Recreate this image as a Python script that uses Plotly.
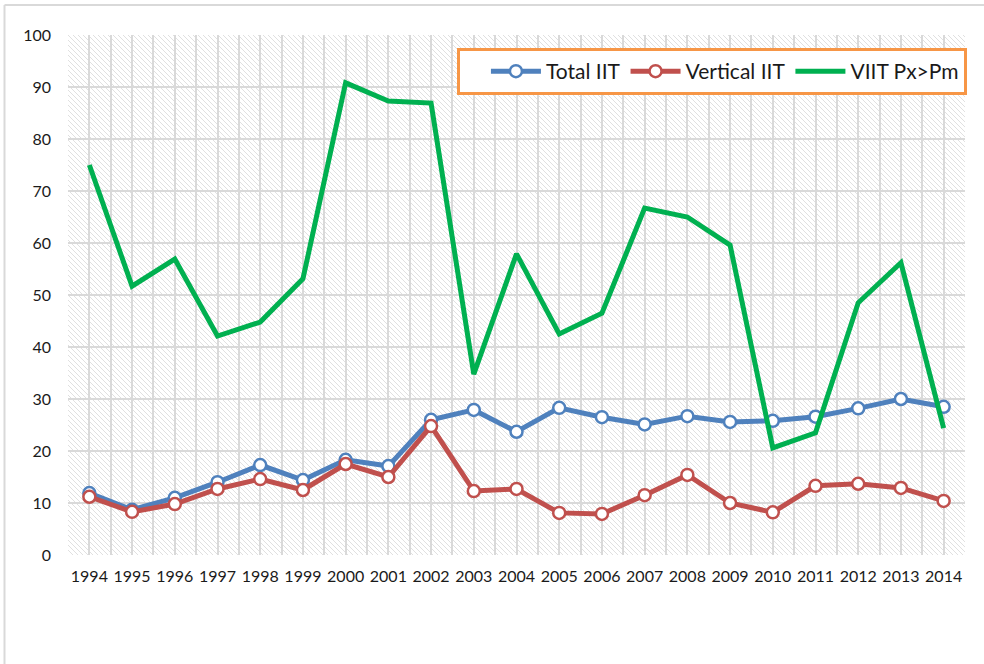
import base64
import plotly.graph_objects as go

years = list(range(1994, 2015))
year_labels = [str(y) for y in years]
total_iit = [11.9, 8.7, 11.0, 14.0, 17.3, 14.4, 18.3, 17.1, 26.0, 27.9, 23.7,
             28.3, 26.5, 25.1, 26.7, 25.6, 25.8, 26.6, 28.2, 30.0, 28.5]
vertical_iit = [11.2, 8.3, 9.8, 12.7, 14.6, 12.5, 17.5, 15.0, 24.8, 12.3, 12.7,
                8.1, 7.9, 11.5, 15.4, 10.0, 8.2, 13.3, 13.7, 12.9, 10.4]
viit_px_pm = [75.0, 51.7, 56.9, 42.1, 44.8, 53.1, 90.8, 87.3, 86.9, 34.8, 57.9,
              42.5, 46.5, 66.7, 65.0, 59.6, 20.6, 23.5, 48.5, 56.2, 24.4]
y_ticks = list(range(0, 101, 10))

W, H = 984, 664
ML, MR, MT, MB = 68, 19, 35, 109
PW, PH = W - ML - MR, H - MT - MB

svg = (
    f"<svg xmlns='http://www.w3.org/2000/svg' width='{PW}' height='{PH}'>"
    "<defs><pattern id='p' width='5' height='5' patternUnits='userSpaceOnUse'>"
    "<path d='M-1,-1 L6,6 M-1,4 L1,6 M4,-1 L6,1' stroke='#e0e0e0' stroke-width='1'/>"
    "</pattern></defs><rect width='100%' height='100%' fill='white'/>"
    "<rect width='100%' height='100%' fill='url(#p)'/></svg>"
)
src = "data:image/svg+xml;base64," + base64.b64encode(svg.encode()).decode()

font = "Lato, 'Open Sans', sans-serif"
fig = go.Figure()
fig.add_trace(go.Scatter(
    x=years, y=total_iit, name="Total IIT", mode="lines+markers",
    line=dict(color="#4F81BD", width=5),
    marker=dict(symbol="circle", size=12, color="white",
                line=dict(color="#4F81BD", width=2.5)),
))
fig.add_trace(go.Scatter(
    x=years, y=vertical_iit, name="Vertical IIT", mode="lines+markers",
    line=dict(color="#C0504D", width=5),
    marker=dict(symbol="circle", size=12, color="white",
                line=dict(color="#C0504D", width=2.5)),
))
fig.add_trace(go.Scatter(
    x=years, y=viit_px_pm, name="VIIT Px>Pm", mode="lines",
    line=dict(color="#00B050", width=5),
))

fig.update_layout(
    width=W, height=H,
    margin=dict(l=ML, r=MR, t=MT, b=MB),
    paper_bgcolor="white",
    plot_bgcolor="rgba(0,0,0,0)",
    font=dict(family=font, size=16, color="#1a1a1a"),
    showlegend=True,
    legend=dict(
        orientation="h", x=1.002, y=0.975, xanchor="right", yanchor="top",
        bgcolor="white", bordercolor="#F79646", borderwidth=3,
        font=dict(size=21, family=font, color="#1a1a1a"),
        itemwidth=50,
        title=dict(text="\u00a0" * 3, side="left", font=dict(size=21)),
    ),
    images=[dict(source=src, xref="paper", yref="paper", x=0, y=1,
                 sizex=1, sizey=1, xanchor="left", yanchor="top",
                 sizing="stretch", layer="below")],
    shapes=[
        dict(type="line", xref="paper", yref="paper",
             x0=(4.5 - ML) / PW, x1=(W - ML) / PW,
             y0=(H - MB - 5) / PH, y1=(H - MB - 5) / PH,
             line=dict(color="#d9d9d9", width=2)),
        dict(type="line", xref="paper", yref="paper",
             x0=(4.5 - ML) / PW, x1=(4.5 - ML) / PW,
             y0=(H - MB - 5) / PH, y1=-MB / PH,
             line=dict(color="#d9d9d9", width=2)),
    ],
)
fig.update_xaxes(
    range=[1993.5, 2014.5], tickmode="array", tickvals=years, ticktext=year_labels,
    showgrid=True, gridcolor="#d9d9d9", gridwidth=1.5,
    minor=dict(tick0=1993.5, dtick=1, showgrid=True, gridcolor="#d9d9d9", gridwidth=1.5),
    zeroline=False, showline=False, ticks="", ticklabelstandoff=10,
    tickfont=dict(size=16),
)
fig.update_yaxes(
    range=[0, 100], tickmode="array", tickvals=y_ticks,
    showgrid=True, gridcolor="#d9d9d9", gridwidth=1.5,
    zeroline=False, showline=False, ticks="", ticklabelstandoff=16,
    tickfont=dict(size=16),
)
fig.write_html("out.html", config={"displayModeBar": False},
               post_script="document.body.style.margin='0';")
